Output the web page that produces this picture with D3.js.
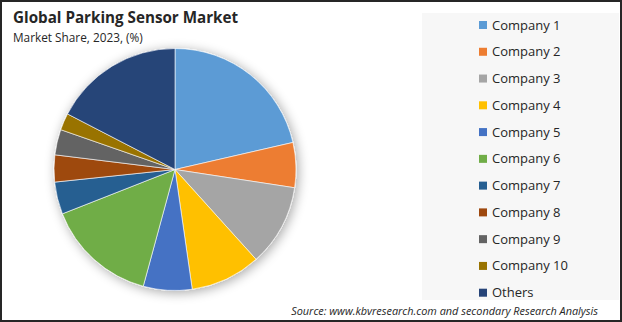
<!DOCTYPE html>
<html>
<head>
<meta charset="utf-8">
<script src="https://cdn.jsdelivr.net/npm/d3@7"></script>
<style>
	body{margin:0;padding:0;background:#fff}
	#chart{width:622px;height:322px}
	text{font-family:"Open Sans","Noto Sans",sans-serif}
</style>
</head>
<body>
<div id="chart"></div>
<script>
// data (share in %)
var companies = ["Company 1","Company 2","Company 3","Company 4","Company 5","Company 6","Company 7","Company 8","Company 9","Company 10","Others"]
var shares = [21.4, 6.0, 10.9, 9.4, 6.5, 14.8, 4.3, 3.6, 3.4, 2.25, 17.4]
var colors = ["#5B9BD5","#ED7D31","#A5A5A5","#FFC000","#4472C4","#70AD47","#255E91","#9E480E","#636363","#997300","#264478"]

var W = 622, H = 322

var svg = d3.select("#chart").append("svg")
	.attr("width", W)
	.attr("height", H)

var defs = svg.append("defs")
var flt = defs.append("filter").attr("id","shadow")
	.attr("x","-30%").attr("y","-30%").attr("width","160%").attr("height","160%")
flt.append("feGaussianBlur").attr("in","SourceAlpha").attr("stdDeviation",6)
flt.append("feOffset").attr("dx",2).attr("dy",2).attr("result","blur")
flt.append("feComponentTransfer").append("feFuncA").attr("type","linear").attr("slope",0.35)
var mrg = flt.append("feMerge")
mrg.append("feMergeNode")
mrg.append("feMergeNode").attr("in","SourceGraphic")

// frame
svg.append("rect")
	.attr("x",1).attr("y",1)
	.attr("width",W-2).attr("height",H-2)
	.attr("fill","#fff")
	.attr("stroke","#262626")
	.attr("stroke-width",2)

// legend panel
svg.append("rect")
	.attr("x",422).attr("y",13)
	.attr("width",197).attr("height",287)
	.attr("fill","#f7f7f7")

// titles
svg.append("text")
	.attr("x",13).attr("y",23)
	.attr("font-size",15.2)
	.attr("font-weight","bold")
	.attr("fill","#262626")
	.text("Global Parking Sensor Market")

svg.append("text")
	.attr("x",13).attr("y",42)
	.attr("font-size",11.8)
	.attr("fill","#262626")
	.text("Market Share, 2023, (%)")

// pie
var cx = 175, cy = 169.5, r = 121

var pie = d3.pie().sort(null).value(function(d){ return d })
var arc = d3.arc().innerRadius(0).outerRadius(r)

var g = svg.append("g")
	.attr("transform","translate(" + cx + "," + cy + ")")
	.attr("filter","url(#shadow)")

g.selectAll("path")
	.data(pie(shares))
	.enter()
	.append("path")
	.attr("d", arc)
	.attr("fill", function(d,i){ return colors[i] })
	.attr("stroke","#fff")
	.attr("stroke-width",0.6)

// legend
var ly = d3.scalePoint().domain(companies).range([25, 292.7])

var leg = svg.selectAll(".leg")
	.data(companies)
	.enter()
	.append("g")
	.attr("class","leg")
	.attr("transform", function(d){ return "translate(479," + ly(d) + ")" })

leg.append("rect")
	.attr("x",0).attr("y",-4)
	.attr("width",8).attr("height",8)
	.attr("fill", function(d,i){ return colors[i] })

leg.append("text")
	.attr("x",13).attr("y",0)
	.attr("dy","0.35em")
	.attr("font-size",13)
	.attr("fill","#262626")
	.text(function(d){ return d })

// source
svg.append("text")
	.attr("x",598).attr("y",315)
	.attr("text-anchor","end")
	.attr("font-size",10.9)
	.attr("font-style","italic")
	.attr("fill","#262626")
	.text("Source: www.kbvresearch.com and secondary Research Analysis")
</script>
</body>
</html>
